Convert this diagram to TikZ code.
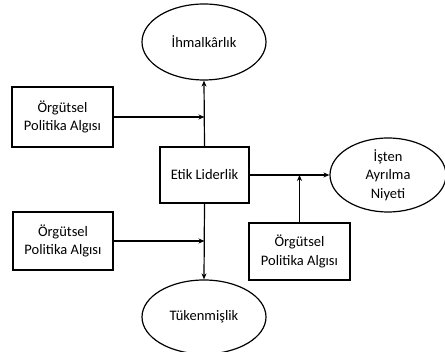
\documentclass[tikz,border=0pt]{standalone}
\usepackage{fontspec}
\setmainfont{Carlito}
\usepackage{tikz}
\usetikzlibrary{calc, shapes.geometric, arrows.meta}

\tikzset{
  kutu/.style={draw, line width=1.2pt, align=center, inner sep=0pt, font=\fontsize{14.5}{18.5}\selectfont},
  oval/.style={draw, ellipse, line width=1.2pt, align=center, inner sep=0pt, font=\fontsize{14.5}{18.5}\selectfont},
  ok/.style={line width=1.2pt, -{Stealth[length=6pt, width=5pt]}}
}

\begin{document}
\begin{tikzpicture}[x=1pt, y=1pt]
                \useasboundingbox (0,0) rectangle (445,352);
                
                % outcome variables
                \node[oval, minimum width=124, minimum height=76] (ihmal) at (204,310) {İhmalkârlık};
                \node[oval, minimum width=116, minimum height=74] (isten) at (388,177) {İşten\\Ayrılma\\Niyeti};
                \node[oval, minimum width=124, minimum height=74] (tuken) at (204,35) {Tükenmişlik};
                
                % predictor
                \node[kutu, minimum width=89, minimum height=56] (etik) at (204.5,177) {Etik Liderlik};
                
                % moderators
                \node[kutu, minimum width=101, minimum height=60] (pol1) at (62.5,235) {Örgütsel\\Politika Algısı};
                \node[kutu, minimum width=100, minimum height=58] (pol2) at (63,111) {Örgütsel\\Politika Algısı};
                \node[kutu, minimum width=101, minimum height=57] (pol3) at (299.5,100.5) {Örgütsel\\Politika Algısı};
                
                % main paths
                \draw[ok] (etik.north) -- (ihmal.south);
                \draw[ok] (etik.south) -- (tuken.north);
                \draw[ok] (etik.east) -- (isten.west);
                
                % moderator paths
                \draw[ok] (pol1.east) -- (pol1.east -| etik.north);
                \draw[ok] (pol2.east) -- (pol2.east -| etik.south);
                \draw[ok] (pol3.north) -- (pol3.north |- etik.east);
\end{tikzpicture}
\end{document}
